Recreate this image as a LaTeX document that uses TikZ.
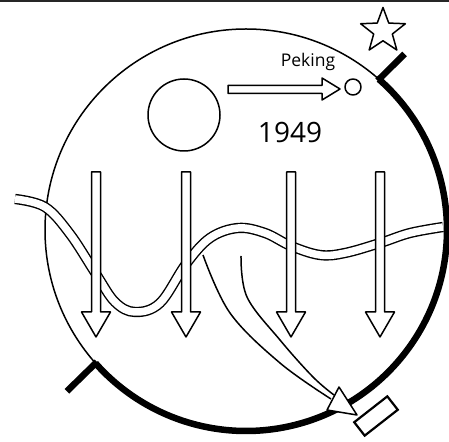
\documentclass[tikz,border=0pt]{standalone}
\usepackage{fontspec}
\newfontfamily\handfont{Open Sans}
\usetikzlibrary{shapes.geometric,calc}
\begin{document}
\begin{tikzpicture}[x=1pt,y=1pt,
  thinline/.style={line width=1.5pt, line join=round},
  thickline/.style={line width=6.5pt},
  wave/.style={draw=black, line width=1.4pt, double=white, double distance=7.5pt},
  downarrow/.style={thinline, fill=white},
  lbl/.style={font=\handfont, inner sep=0pt}]
\useasboundingbox (0,0) rectangle (449,441);
\fill[white] (0,0) rectangle (449,441);
% top border
\fill[black!85] (0,438.5) rectangle (449,441);
\coordinate (C) at (246,211);
% main circle
\draw[thinline] (C) circle[radius=201pt];
% thick arc with ticks
\draw[thickline] ($(C)+(48.6:201pt)$) arc[start angle=48.6, end angle=-138.5, radius=201pt];
\draw[thickline] ($(C)+(48.6:199pt)$) -- ($(C)+(48:237pt)$);
\draw[thickline] ($(C)+(221.5:199pt)$) -- ($(C)+(222:241pt)$);
% wave (double line)
\draw[wave] plot[smooth, tension=0.6] coordinates {(15,242) (45,234) (70,207) (96,167) (115,139) (135,129) (160,138) (186,177) (210,203) (238,213) (265,208) (291,195) (320,186) (345,188) (380,198) (410,208) (443,214)};
% curves to arrowhead
\draw[thinline] plot[smooth, tension=0.6] coordinates {(203,186) (230,128) (280,78) (331,42)};
\draw[thinline] plot[smooth, tension=0.6] coordinates {(241,185) (247,144) (280,101) (313,64) (334,46)};
\draw[thinline, fill=white] (339,54) -- (327,31) -- (357,26) -- cycle;
% rectangle
\node[draw, line width=2.2pt, minimum width=42pt, minimum height=17pt, rotate=38, inner sep=0pt] (box) at (376,25) {};
% vertical arrows
\foreach \x/\n in {96/a1,186/a2,291/a3,380/a4}{
  \draw[downarrow] (\x-4.5,269) -- (\x+4.5,269) -- (\x+4.5,129) -- (\x+14.5,129) -- (\x,104) -- (\x-14.5,129) -- (\x-4.5,129) -- cycle;
}
% star
\node[star, star points=5, star point ratio=2.4, minimum size=47pt, inner sep=0pt, draw, thinline] (star) at (383,410) {};
% big circle (sun)
\draw[thinline] (184,326) circle[radius=36pt];
% horizontal arrow
\draw[thinline, fill=white] (228,347.5) -- (322,347.5) -- (322,341) -- (340,352) -- (322,363) -- (322,355.5) -- (228,355.5) -- cycle;
% small circle (Peking)
\node[draw, circle, thinline, minimum size=16pt, inner sep=0pt] (peking) at (353,354) {};
% texts
\node[lbl, font=\handfont\fontsize{17.5}{20}\selectfont] (pekinglbl) at (308,379) {Peking};
\node[lbl, font=\handfont\fontsize{28}{32}\selectfont] (year) at (290,308) {1949};
\end{tikzpicture}
\end{document}
